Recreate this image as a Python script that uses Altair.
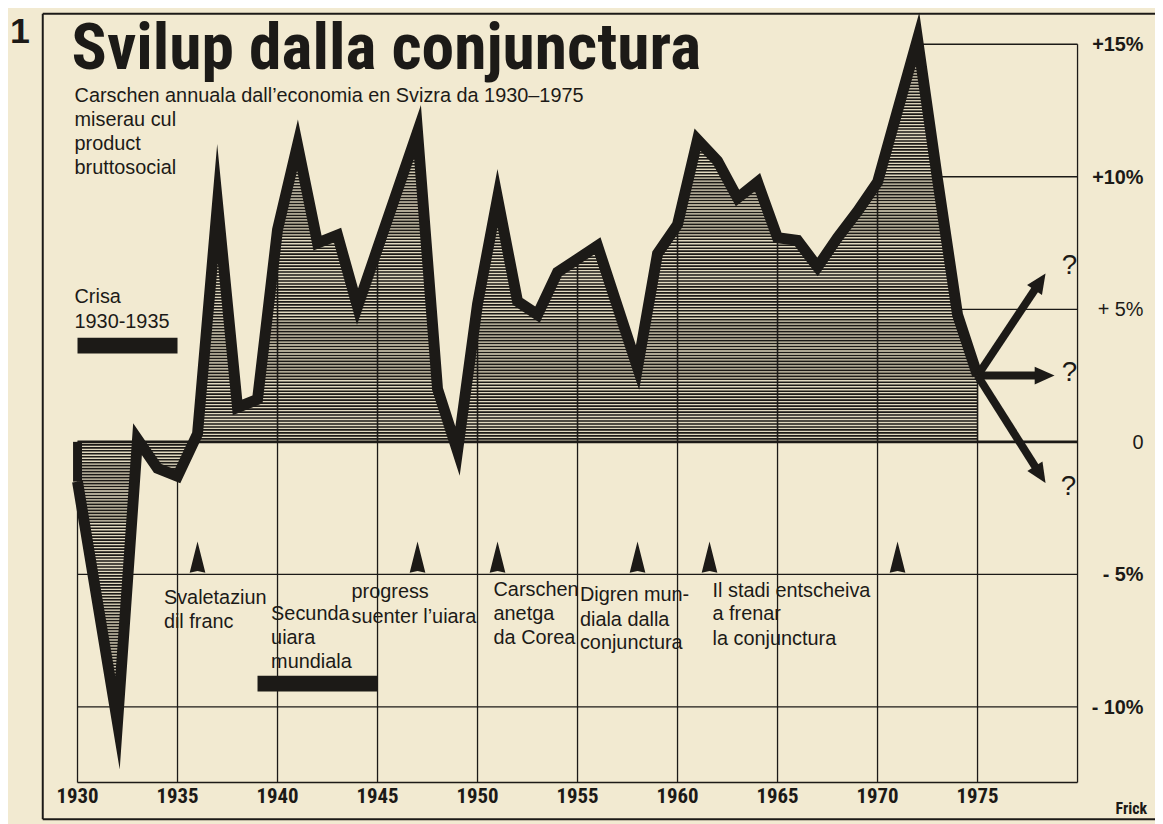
import math
import altair as alt
import pandas as pd

# ---------------- data ----------------
years = list(range(1930, 1976))
growth = [-1.5, -6.05, -10.6, 0.1, -1.0, -1.3, 0.3, 9.0, 1.3, 1.6,
          8.0, 11.2, 7.5, 7.8, 5.1, 7.3, 9.5, 11.7, 2.0, -0.35,
          5.2, 9.2, 5.3, 4.8, 6.4, 6.9, 7.4, 5.1, 2.8, 7.1,
          8.2, 11.4, 10.6, 9.2, 9.8, 7.7, 7.6, 6.6, 7.7, 8.7,
          9.8, 12.5, 15.2, 9.9, 4.8, 2.5]

x_ticks = [1930, 1935, 1940, 1945, 1950, 1955, 1960, 1965, 1970, 1975]
y_ticks = [15, 10, 5, 0, -5, -10]
y_tick_labels = ["+15%", "+10%", "+ 5%", "0", "- 5%", "- 10%"]
y_tick_bold = [True, True, False, False, True, True]

event_years = [1936, 1947, 1951, 1958, 1961.6, 1971]
event_level = -4.35

label_text = ["Svaletaziun", "dil franc",
              "Secunda", "uiara", "mundiala",
              "progress", "suenter l\u2019uiara",
              "Carschen", "anetga", "da Corea",
              "Digren mun-", "diala dalla", "conjunctura",
              "Il stadi entscheiva", "a frenar", "la conjunctura",
              "Crisa", "1930-1935"]
label_year = [1934.32, 1934.32,
              1939.68, 1939.68, 1939.68,
              1943.70, 1943.70,
              1950.80, 1950.80, 1950.80,
              1955.12, 1955.12, 1955.12,
              1961.75, 1961.75, 1961.75,
              1929.85, 1929.85]
label_value = [-6.11, -7.04,
               -6.74, -7.64, -8.54,
               -5.88, -6.82,
               -5.81, -6.71, -7.64,
               -6.00, -6.93, -7.83,
               -5.85, -6.74, -7.68,
               5.25, 4.31]

period_start = [1930, 1939]
period_end = [1935, 1945]
period_level = [3.63, -9.12]

arrow_start = (1975, 2.5)
arrow_end_year = [1978.4, 1978.85, 1978.4]
arrow_end_value = [6.35, 2.5, -1.55]
qmark_year = [1979.6, 1979.6, 1979.55]
qmark_value = [6.62, 2.6, -1.7]

# ---------------- styling ----------------
BG = "#f2ead1"
INK = "#1c1a17"
HATCH_BG = "#e0d8bf"
SANS = "Liberation Sans, Arial, Helvetica, sans-serif"
NARROW = "Roboto Condensed, Liberation Sans Narrow, DejaVu Sans Condensed, sans-serif"
SMALL = 20

X_DOM = [1930, 1980]
Y_DOM = [-12.85, 16.0]
W, H = 1007, 770
PAD_L, PAD_T = 70, 7
PX_YEAR = W / (X_DOM[1] - X_DOM[0])
PX_PCT = H / (Y_DOM[1] - Y_DOM[0])
BOTTOM = Y_DOM[0]

xs = alt.Scale(domain=X_DOM, nice=False, zero=False)
ys = alt.Scale(domain=Y_DOM, nice=False, zero=False)


def X(f):
    return alt.X(f, type="quantitative", scale=xs, axis=None)


def Y(f):
    return alt.Y(f, type="quantitative", scale=ys, axis=None)


series = pd.DataFrame({"year": years, "g": growth})

# grid
grid_h = pd.DataFrame({"v": [-5, -10, BOTTOM], "x0": [1930] * 3, "x1": [1980] * 3})
grid_v = pd.DataFrame({"x": x_ticks + [1980],
                       "v0": [BOTTOM] * (len(x_ticks) + 1),
                       "v1": [0] * len(x_ticks) + [15]})
right_h = pd.DataFrame({"v": [5, 10, 15], "x0": [1972] * 3, "x1": [1980] * 3})
inner_v = series[series["year"].isin(x_ticks) & (series["g"] > 0)]

layers = []
layers.append(alt.Chart(grid_h).mark_rule(color=INK, strokeWidth=1.4).encode(
    x=X("x0"), x2="x1", y=Y("v")))
layers.append(alt.Chart(grid_v).mark_rule(color=INK, strokeWidth=1.3).encode(
    x=X("x"), y=Y("v0"), y2="v1"))
layers.append(alt.Chart(right_h).mark_rule(color=INK, strokeWidth=1.4).encode(
    x=X("x0"), x2="x1", y=Y("v")))


# hatch: horizontal lines every 3px, spanning where the area covers that level
def covered(level):
    out, cur = [], None
    for i in range(len(years) - 1):
        x0, x1 = years[i], years[i + 1]
        f0 = (growth[i] - level) if level > 0 else (level - growth[i])
        f1 = (growth[i + 1] - level) if level > 0 else (level - growth[i + 1])
        if f0 >= 0 and f1 >= 0:
            a, b = x0, x1
        elif f0 < 0 and f1 < 0:
            a = b = None
        else:
            xc = x0 + f0 / (f0 - f1) * (x1 - x0)
            a, b = (x0, xc) if f0 >= 0 else (xc, x1)
        if a is None:
            if cur:
                out.append(cur)
                cur = None
            continue
        if cur and abs(cur[1] - a) < 1e-9:
            cur[1] = b
        else:
            if cur:
                out.append(cur)
            cur = [a, b]
    if cur:
        out.append(cur)
    return out


STEP = 3.0 / PX_PCT
hatch_rows = []
for sign, lim in ((1, max(growth)), (-1, -min(growth))):
    k = 1
    while k * STEP < lim:
        lev = sign * k * STEP
        for a, b in covered(lev):
            hatch_rows.append({"x0": a, "x1": b, "v": lev})
        k += 1
hatch_df = pd.DataFrame(hatch_rows)

layers.append(alt.Chart(series).mark_area(color=HATCH_BG, strokeWidth=0).encode(
    x=X("year"), y=Y("g"), y2=alt.datum(0)))
layers.append(alt.Chart(hatch_df).mark_rule(color=INK, strokeWidth=1.65, strokeCap="butt").encode(
    x=X("x0"), x2="x1", y=Y("v")))
layers.append(alt.Chart(inner_v).mark_rule(color=INK, strokeWidth=1.6).encode(
    x=X("year"), y=Y("g"), y2=alt.datum(0)))
layers.append(alt.Chart(pd.DataFrame({"v": [0], "x0": [1930], "x1": [1980]})).mark_rule(
    color=INK, strokeWidth=2.6).encode(x=X("x0"), x2="x1", y=Y("v")))

# main line
layers.append(alt.Chart(series).mark_line(
    color=INK, strokeWidth=11, strokeJoin="miter", strokeMiterLimit=20, strokeCap="butt"
).encode(x=X("year"), y=Y("g"), order="year:Q"))
first = series.iloc[[0]]
layers.append(alt.Chart(first).mark_rule(color=INK, strokeWidth=9).encode(
    x=X("year"), y=Y("g"), y2=alt.datum(0)))

# x tick labels under the grid
xl = pd.DataFrame({"year": x_ticks, "v": [BOTTOM] * len(x_ticks),
                   "t": [str(t) for t in x_ticks]})
layers.append(alt.Chart(xl).mark_text(
    align="center", baseline="alphabetic", dy=21, font=NARROW, fontSize=21,
    fontWeight="bold", color=INK).encode(x=X("year"), y=Y("v"), text="t:N"))

# period bars
periods = pd.DataFrame({"x0": period_start, "x1": period_end, "v": period_level})
layers.append(alt.Chart(periods).mark_rule(color=INK, strokeWidth=16, strokeCap="butt").encode(
    x=X("x0"), x2="x1", y=Y("v")))

# event markers
ev = pd.DataFrame({"year": event_years, "v": [event_level] * len(event_years)})
layers.append(alt.Chart(ev).mark_point(
    shape="M0,-1L0.5,1L0,0.88L-0.5,1Z", size=1000, filled=True, color=INK,
    opacity=1, strokeWidth=0).encode(x=X("year"), y=Y("v")))

# event labels
labels = pd.DataFrame({"t": label_text, "year": label_year, "v": label_value})
layers.append(alt.Chart(labels).mark_text(
    align="left", baseline="alphabetic", font=SANS, fontSize=SMALL, color=INK).encode(
    x=X("year"), y=Y("v"), text="t:N"))

# forecast arrows
HEAD = 20.0
rows = []
for ex, ey in zip(arrow_end_year, arrow_end_value):
    dxp = (ex - arrow_start[0]) * PX_YEAR
    dyp = -(ey - arrow_start[1]) * PX_PCT
    ln = math.hypot(dxp, dyp)
    ux, uy = dxp / ln, dyp / ln
    bx = ex - (HEAD * 0.9 * ux) / PX_YEAR
    by = ey + (HEAD * 0.9 * uy) / PX_PCT
    ang = math.degrees(math.atan2(dyp, dxp)) % 360
    rows.append({"x0": arrow_start[0], "v0": arrow_start[1], "x1": bx, "v1": by,
                 "tx": ex, "tv": ey, "ang": ang})
arrows = pd.DataFrame(rows)
layers.append(alt.Chart(arrows).mark_rule(color=INK, strokeWidth=8, strokeCap="butt").encode(
    x=X("x0"), y=Y("v0"), x2="x1", y2="v1"))
layers.append(alt.Chart(arrows).mark_point(
    shape="M0,0L-2,-0.9L-2,0.9Z", size=400, filled=True, color=INK, opacity=1,
    strokeWidth=0).encode(x=X("tx"), y=Y("tv"), angle=alt.Angle("ang:Q", scale=None)))
qm = pd.DataFrame({"year": qmark_year, "v": qmark_value})
layers.append(alt.Chart(qm).mark_text(
    text="?", align="center", baseline="middle", font=SANS, fontSize=28, color=INK).encode(
    x=X("year"), y=Y("v")))

# right-hand scale labels
yl = pd.DataFrame({"v": y_ticks, "t": y_tick_labels, "b": y_tick_bold,
                   "x": [1983.3] * len(y_ticks)})
layers.append(alt.Chart(yl[yl["b"]]).mark_text(
    align="right", baseline="middle", font=SANS, fontSize=20, fontWeight="bold",
    color=INK, dy=1).encode(x=X("x"), y=Y("v"), text="t:N"))
layers.append(alt.Chart(yl[~yl["b"]]).mark_text(
    align="right", baseline="middle", font=SANS, fontSize=20, color=INK, dy=1).encode(
    x=X("x"), y=Y("v"), text="t:N"))

# frame and title block (pixel positions relative to the plot origin)
frame = [
    dict(x=-35, x2=-35, y=-4, y2=807),
    dict(x=-35, x2=1085, y=-4, y2=-4),
    dict(x=-35, x2=1085, y=807, y2=807),
]
for f in frame:
    layers.append(alt.Chart(series.iloc[[0]]).mark_rule(color=INK, strokeWidth=2).encode(
        x=alt.value(f["x"]), x2=alt.value(f["x2"]), y=alt.value(f["y"]), y2=alt.value(f["y2"])))


def ptext(txt, x, y, size, weight="normal", font=SANS, align="left"):
    return alt.Chart(series.iloc[[0]]).mark_text(
        text=txt, align=align, baseline="alphabetic", font=font, fontSize=size,
        fontWeight=weight, color=INK).encode(x=alt.value(x), y=alt.value(y))


layers.append(ptext("1", -68, 25, 36, "bold"))
layers.append(ptext("Svilup dalla conjunctura", -6, 52, 66, "bold", font=NARROW))
layers.append(ptext("Carschen annuala dall\u2019economia en Svizra da 1930\u20131975", -3, 85, SMALL))
layers.append(ptext("miserau cul", -3, 109, SMALL))
layers.append(ptext("product", -3, 133, SMALL))
layers.append(ptext("bruttosocial", -3, 157, SMALL))
layers.append(ptext("Frick", 1077, 802, 16, "bold", font=NARROW, align="right"))

chart = alt.layer(*layers).properties(
    width=W, height=H,
    autosize=alt.AutoSizeParams(type="none"),
    padding={"left": PAD_L, "top": PAD_T, "right": 78, "bottom": 39},
    background=BG,
).configure_view(stroke=None)

chart.save("out.html", embed_options={"renderer": "svg", "actions": False})
